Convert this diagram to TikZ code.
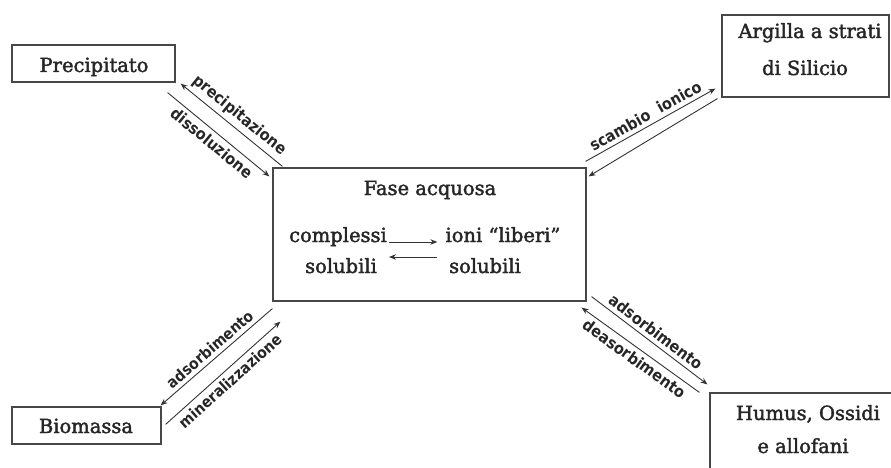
\documentclass[tikz,border=0pt]{standalone}
\usepackage{fontspec}
\setmainfont{DejaVu Serif}[FakeBold=2]
\newfontfamily\lblfont{DejaVu Sans Condensed}
\usetikzlibrary{arrows.meta,calc}
\begin{document}
\begin{tikzpicture}[x=1pt,y=-1pt,
  box/.style={draw=black!72,line width=1.2pt,inner sep=0pt},
  btxt/.style={font=\fontsize{19.5}{20}\selectfont,anchor=base,inner sep=0pt,text=black!85},
  lbl/.style={font=\lblfont\bfseries\fontsize{16}{16}\selectfont,sloped,inner sep=4pt,text=black!85},
  lbls/.style={font=\lblfont\bfseries\fontsize{15.5}{16}\selectfont},
  arr/.style={draw=black!80,line width=0.9pt,-{Stealth[length=7pt,width=5.5pt]}}
]
\useasboundingbox (0,0) rectangle (891,468);
\clip (0,0) rectangle (891,468);

% boxes
\node[box,minimum width=163pt,minimum height=37pt] (prec) at (93.5,63.5) {};
\node[box,minimum width=167pt,minimum height=82pt] (arg) at (805.5,56) {};
\node[box,minimum width=313pt,minimum height=133pt] (fase) at (429.5,234.5) {};
\node[box,minimum width=149pt,minimum height=37pt] (bio) at (86.5,425.5) {};
\node[box,minimum width=198pt,minimum height=78pt] (hum) at (809,432) {};

% box texts
\node[btxt] (prect) at (94,72) {Precipitato};
\node[btxt] (argt1) at (810,38) {Argilla a strati};
\node[btxt] (argt2) at (805,75) {di Silicio};
\node[btxt] (faset) at (430,195) {Fase acquosa};
\node[btxt] (cpx) at (338,242) {complessi};
\node[btxt] (ioni) at (503,242) {ioni “liberi”};
\node[btxt] (sol1) at (341,273) {solubili};
\node[btxt] (sol2) at (485,273) {solubili};
\node[btxt] (biot) at (86,433) {Biomassa};
\node[btxt] (humt1) at (808,420) {Humus, Ossidi};
\node[btxt] (humt2) at (803,453) {e allofani};

% inner equilibrium arrows
\draw[arr] ([shift={(2,0)}]cpx.base east) -- ([shift={(-8,0)}]ioni.base west);
\draw[arr] ([shift={(-8,15)}]ioni.base west) -- ([shift={(2,15)}]cpx.base east);

% Precipitato
\draw[arr] ([shift={(10,-1)}]fase.north west) -- node[lbl,above] {precipitazione} ([shift={(5,1)}]prec.south east);
\draw[arr] ([shift={(-8,10)}]prec.south east) -- node[lbl,below] {dissoluzione} ([shift={(-3,9)}]fase.north west);

% Argilla
\draw[arr] ([shift={(-1,-6)}]fase.north east) -- node[lbl,above] {scambio\ \ ionico} ([shift={(-6,-9)}]arg.south west);
\draw[arr] ([shift={(-4,1)}]arg.south west) -- ([shift={(2,9)}]fase.north east);

% Biomassa
\draw[arr] ([shift={(0,7)}]fase.south west) -- node[lbl,lbls,above] {adsorbimento} ([shift={(-1,-1)}]bio.north east);
\draw[arr] ([shift={(4,18)}]bio.north east) -- node[lbl,lbls,below] {mineralizzazione} ([shift={(8,20)}]fase.south west);

% Humus
\draw[arr] ([shift={(5,-5)}]fase.south east) -- node[lbl,above] {adsorbimento} ([shift={(-2,-8)}]hum.north west);
\draw[arr] ([shift={(-10,0)}]hum.north west) -- node[lbl,below] {deasorbimento} ([shift={(-5,6)}]fase.south east);
\end{tikzpicture}
\end{document}
